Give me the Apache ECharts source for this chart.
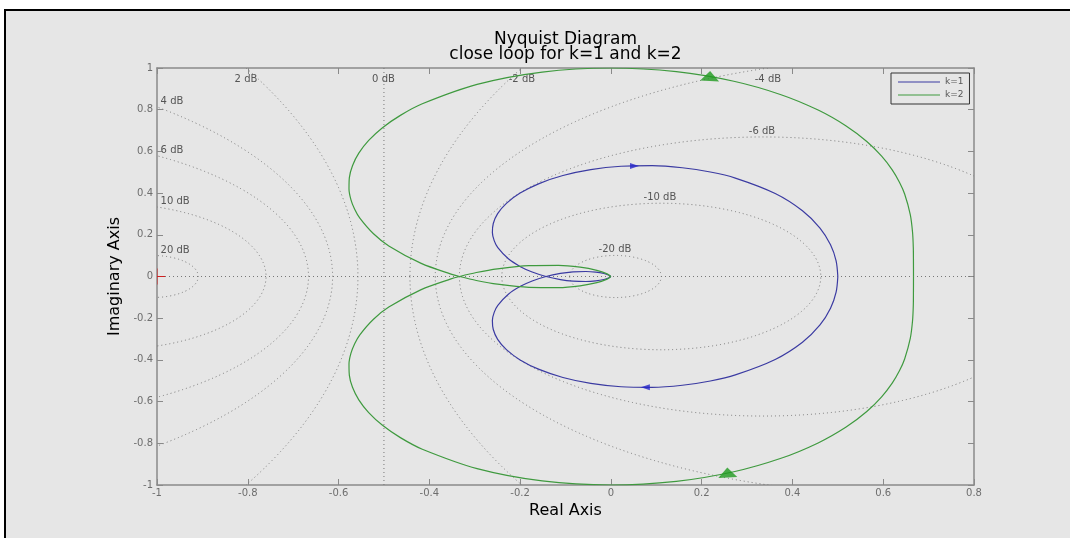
<!DOCTYPE html>
<html>
<head>
<meta charset="utf-8">
<script src="https://cdn.jsdelivr.net/npm/echarts@6/dist/echarts.min.js"></script>
<style>
html, body { margin: 0; padding: 0; background: #fff; }
#chart { width: 1070px; height: 538px; }
</style>
</head>
<body>
<div id="chart"></div>
<script>
// Axis ranges and tick labels
const xMin = -1, xMax = 0.8, yMin = -1, yMax = 1, tickStep = 0.2;
const xTickLabels = ['-1', '-0.8', '-0.6', '-0.4', '-0.2', '0', '0.2', '0.4', '0.6', '0.8'];
const yTickLabels = ['-1', '-0.8', '-0.6', '-0.4', '-0.2', '0', '0.2', '0.4', '0.6', '0.8', '1'];

// Closed-loop frequency response, k = 1 (real part is shared by both half-planes)
const k1Re = [0.5, 0.4962, 0.4839, 0.4607, 0.4221, 0.3620, 0.2742, 0.2191, 0.1574, 0.0909, 0.0224, -0.0444, -0.1057, -0.1582, -0.2000, -0.2302, -0.2495, -0.2591, -0.2611, -0.2571, -0.2491, -0.2259, -0.1993, -0.1734, -0.1429, -0.1113, -0.0833, -0.0551, -0.0333, -0.0154, -0.0042, 0];
const k1ImLower = [0, -0.0753, -0.1524, -0.2325, -0.3155, -0.3982, -0.4721, -0.5011, -0.5217, -0.5315, -0.5287, -0.5127, -0.4843, -0.4457, -0.4000, -0.3508, -0.3014, -0.2541, -0.2106, -0.1719, -0.1382, -0.0848, -0.0472, -0.0215, 0, 0.0146, 0.0220, 0.0239, 0.0210, 0.0144, 0.0063, 0];
const k1ImUpper = [0, 0.0753, 0.1524, 0.2325, 0.3155, 0.3982, 0.4721, 0.5011, 0.5217, 0.5315, 0.5287, 0.5127, 0.4843, 0.4457, 0.4000, 0.3508, 0.3014, 0.2541, 0.2106, 0.1719, 0.1382, 0.0848, 0.0472, 0.0215, 0, -0.0146, -0.0220, -0.0239, -0.0210, -0.0144, -0.0063, 0];

// Closed-loop frequency response, k = 2
const k2Re = [0.6667, 0.6666, 0.6663, 0.6646, 0.6596, 0.6472, 0.6360, 0.6198, 0.5965, 0.5638, 0.5183, 0.4566, 0.3749, 0.2708, 0.1442, 0, -0.1513, -0.2948, -0.4155, -0.4638, -0.5032, -0.5336, -0.5554, -0.5693, -0.5762, -0.5770, -0.5728, -0.5645, -0.5531, -0.5236, -0.4893, -0.4179, -0.3523, -0.3333, -0.2964, -0.2500, -0.1804, -0.1153, -0.0679, -0.0309, -0.0083, 0];
const k2ImLower = [0, -0.0671, -0.1370, -0.2125, -0.2973, -0.3955, -0.4510, -0.5113, -0.5769, -0.6474, -0.7219, -0.7982, -0.8719, -0.9364, -0.9825, -1.0, -0.9805, -0.9214, -0.8284, -0.7728, -0.7136, -0.6526, -0.5914, -0.5315, -0.4740, -0.4197, -0.3690, -0.3223, -0.2796, -0.2060, -0.1468, -0.0629, -0.0116, 0, 0.0191, 0.0370, 0.0522, 0.0535, 0.0448, 0.0296, 0.0127, 0];
const k2ImUpper = [0, 0.0671, 0.1370, 0.2125, 0.2973, 0.3955, 0.4510, 0.5113, 0.5769, 0.6474, 0.7219, 0.7982, 0.8719, 0.9364, 0.9825, 1.0, 0.9805, 0.9214, 0.8284, 0.7728, 0.7136, 0.6526, 0.5914, 0.5315, 0.4740, 0.4197, 0.3690, 0.3223, 0.2796, 0.2060, 0.1468, 0.0629, 0.0116, 0, -0.0191, -0.0370, -0.0522, -0.0535, -0.0448, -0.0296, -0.0127, 0];

// Direction arrows drawn on each curve: [re, im] and pointing angle
const k1Arrows = [[0.052, 0.530], [0.076, -0.531]];
const k1ArrowRotate = [-90, 90];
const k2Arrows = [[0.218, 0.962], [0.257, -0.940]];
const k2ArrowRotate = [-3, 3];

// Constant closed-loop magnitude contours (M-circles): centre on the real axis and radius
const contourCenter = [-1.0101, -1.1111, -1.3355, -1.6614, -2.7097, 1.7097, 0.6614, 0.3355, 0.1111, 0.0101];
const contourRadius = [0.1010, 0.3514, 0.6693, 1.0483, 2.1524, 2.1524, 1.0483, 0.6693, 0.3514, 0.1010];
const zeroDbX = -0.5;

// Contour labels and their anchor points
const dbLabels = ['20 dB', '10 dB', '6 dB', '4 dB', '2 dB', '0 dB', '-2 dB', '-4 dB', '-6 dB', '-10 dB', '-20 dB'];
const dbLabelX = [-0.960, -0.960, -0.967, -0.967, -0.804, -0.501, -0.196, 0.346, 0.333, 0.108, 0.009];
const dbLabelY = [0.125, 0.360, 0.604, 0.839, 0.945, 0.945, 0.945, 0.945, 0.695, 0.379, 0.128];

// Critical point -1 + 0j
const criticalPoint = [-1, 0];

const seriesNames = ['k=1', 'k=2'];
const blue = '#3b3ba2';
const green = '#3f9a3f';
const gridDot = '#777777';
const axisColor = '#8a8a8a';
const labelFont = '"DejaVu Sans", sans-serif';

function pairs(xs, ys) { return xs.map((x, i) => [x, ys[i]]); }

const chart = echarts.init(document.getElementById('chart'), null, { renderer: 'canvas' });

function axisBase(min, max) {
  return {
    type: 'value', min: min, max: max, interval: tickStep,
    axisLine: { show: true, onZero: false, lineStyle: { color: axisColor, width: 1.5 } },
    axisTick: { show: true, inside: true, length: 6, lineStyle: { color: axisColor, width: 1 } },
    splitLine: { show: false }
  };
}

const xBottom = Object.assign(axisBase(xMin, xMax), {
  position: 'bottom',
  name: 'Real Axis', nameLocation: 'middle', nameGap: 15,
  nameTextStyle: { fontFamily: labelFont, fontSize: 16, color: '#000' },
  axisLabel: {
    show: true, margin: 3, color: '#6e6e6e', fontFamily: labelFont, fontSize: 10,
    showMinLabel: true, showMaxLabel: true,
    formatter: v => xTickLabels[Math.round((v - xMin) / tickStep)]
  }
});
const xTop = Object.assign(axisBase(xMin, xMax), { position: 'top', axisLabel: { show: false } });
const yLeft = Object.assign(axisBase(yMin, yMax), {
  position: 'left',
  name: 'Imaginary Axis', nameLocation: 'middle', nameGap: 31, nameRotate: 90,
  nameTextStyle: { fontFamily: labelFont, fontSize: 16, color: '#000' },
  axisLabel: {
    show: true, margin: 4, color: '#6e6e6e', fontFamily: labelFont, fontSize: 10,
    showMinLabel: true, showMaxLabel: true,
    formatter: v => yTickLabels[Math.round((v - yMin) / tickStep)]
  }
});
const yRight = Object.assign(axisBase(yMin, yMax), { position: 'right', axisLabel: { show: false } });

function curveSeries(name, color, data) {
  return {
    name: name, type: 'line', data: data, symbol: 'none', smooth: 0.3,
    clip: true, z: 5,
    lineStyle: { color: color, width: 1.2 },
    itemStyle: { color: color },
    emphasis: { disabled: true }
  };
}

const option = {
  animation: false,
  backgroundColor: '#ffffff',
  grid: { left: 157, top: 68, width: 817, height: 417, containLabel: false },
  xAxis: [xBottom, xTop],
  yAxis: [yLeft, yRight],
  graphic: {
    elements: [
      {
        type: 'rect', z: -100, silent: true,
        shape: { x: 5, y: 10, width: 1100, height: 560 },
        style: { fill: '#e6e6e6', stroke: '#000', lineWidth: 2 }
      },
      {
        type: 'text', z: 10, silent: true, x: 565.5, y: 32,
        style: {
          text: 'Nyquist Diagram\nclose loop for k=1 and k=2',
          align: 'center', verticalAlign: 'top', lineHeight: 15,
          font: '17px "DejaVu Sans", sans-serif', fill: '#000'
        }
      }
    ]
  },
  legend: {
    data: seriesNames, orient: 'vertical', left: 891, top: 73,
    icon: 'rect', itemWidth: 42, itemHeight: 1, itemGap: 1,
    padding: [3, 6, 3, 7],
    borderColor: '#333', borderWidth: 1, backgroundColor: '#e6e6e6',
    textStyle: { fontFamily: labelFont, fontSize: 9, color: '#555', lineHeight: 12 },
    selectedMode: false
  },
  series: [
    // M-circle contours
    {
      type: 'custom', silent: true, clip: true, z: 1,
      data: pairs(contourCenter, contourRadius),
      renderItem: function (params, api) {
        const cx = api.value(0), r = api.value(1);
        const c = api.coord([cx, 0]);
        const rx = api.size([r, 0])[0];
        const ry = api.size([0, r])[1];
        const d = 'M ' + (c[0] - rx) + ' ' + c[1] +
          ' A ' + rx + ' ' + ry + ' 0 1 0 ' + (c[0] + rx) + ' ' + c[1] +
          ' A ' + rx + ' ' + ry + ' 0 1 0 ' + (c[0] - rx) + ' ' + c[1] + ' Z';
        return {
          type: 'path', shape: { pathData: d },
          style: { fill: 'none', stroke: gridDot, lineWidth: 1, lineDash: [1, 3] }
        };
      }
    },
    // 0 dB contour (vertical line) and real axis
    {
      type: 'line', silent: true, symbol: 'none', z: 1,
      data: [[zeroDbX, yMin], [zeroDbX, yMax]],
      lineStyle: { color: gridDot, width: 1, type: [1, 3] }
    },
    {
      type: 'line', silent: true, symbol: 'none', z: 1,
      data: [[xMin, 0], [xMax, 0]],
      lineStyle: { color: gridDot, width: 1, type: [1, 3] }
    },
    // Contour labels
    {
      type: 'custom', silent: true, z: 3,
      data: pairs(dbLabelX, dbLabelY),
      renderItem: function (params, api) {
        const p = api.coord([api.value(0), api.value(1)]);
        return {
          type: 'text', x: p[0], y: p[1],
          style: {
            text: dbLabels[params.dataIndex], fill: '#555',
            font: '10px "DejaVu Sans", sans-serif',
            align: 'center', verticalAlign: 'middle'
          }
        };
      }
    },
    // Critical point marker
    {
      type: 'custom', silent: true, clip: true, z: 4,
      data: [criticalPoint],
      renderItem: function (params, api) {
        const c = api.coord([api.value(0), api.value(1)]);
        const h = 8;
        return {
          type: 'path',
          shape: { pathData: 'M ' + (c[0] - h) + ' ' + c[1] + ' L ' + (c[0] + h) + ' ' + c[1] +
            ' M ' + c[0] + ' ' + (c[1] - h) + ' L ' + c[0] + ' ' + (c[1] + h) },
          style: { fill: 'none', stroke: '#d02020', lineWidth: 1 }
        };
      }
    },
    curveSeries('k=1', blue, pairs(k1Re, k1ImLower)),
    curveSeries('k=1', blue, pairs(k1Re, k1ImUpper)),
    curveSeries('k=2', green, pairs(k2Re, k2ImLower)),
    curveSeries('k=2', green, pairs(k2Re, k2ImUpper)),
    // Direction arrows
    {
      type: 'scatter', silent: true, z: 6, symbol: 'triangle', symbolSize: [6, 9],
      itemStyle: { color: '#2424c8' },
      data: k1Arrows.map((p, i) => ({ value: p, symbolRotate: k1ArrowRotate[i] }))
    },
    {
      type: 'scatter', silent: true, z: 6, symbol: 'triangle', symbolSize: [19, 10],
      itemStyle: { color: '#1f9a1f' },
      data: k2Arrows.map((p, i) => ({ value: p, symbolRotate: k2ArrowRotate[i] }))
    }
  ]
};

chart.setOption(option);
</script>
</body>
</html>
